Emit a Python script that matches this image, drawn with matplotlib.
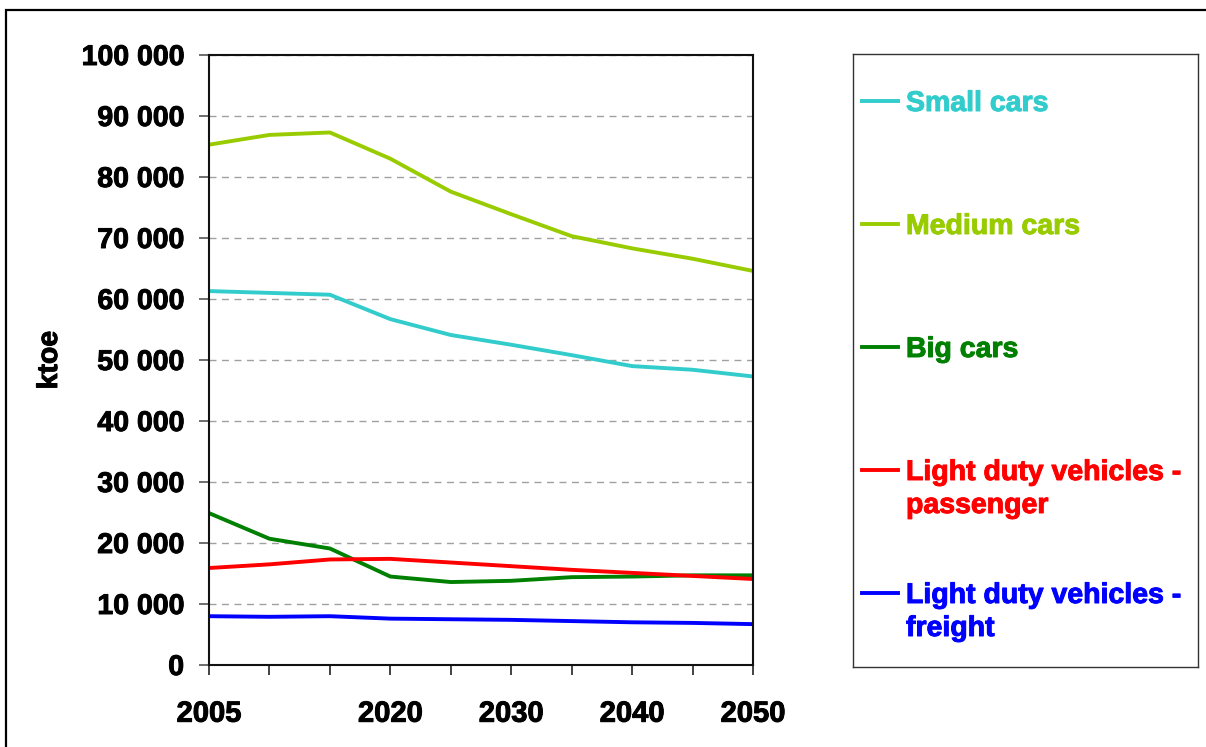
import numpy as np
import matplotlib
matplotlib.use("Agg")
import matplotlib.pyplot as plt
import matplotlib.patheffects as pe
from matplotlib.ticker import FuncFormatter
from matplotlib.lines import Line2D
from matplotlib.patches import Rectangle

#--- Data ---------------------------------------------------------------------

years = [2005, 2010, 2015, 2020, 2025, 2030, 2035, 2040, 2045, 2050]
year_labels = ['2005', '', '', '2020', '', '2030', '', '2040', '', '2050']

small_cars = [61300, 61000, 60700, 56700, 54100, 52500, 50800, 49000, 48400, 47300]
medium_cars = [85300, 86900, 87300, 83000, 77600, 73900, 70300, 68300, 66600, 64600]
big_cars = [24900, 20700, 19100, 14500, 13600, 13800, 14400, 14500, 14700, 14700]
ldv_passenger = [15900, 16500, 17300, 17400, 16800, 16200, 15600, 15100, 14600, 14100]
ldv_freight = [8000, 7900, 8000, 7600, 7500, 7400, 7200, 7000, 6900, 6700]

series = [
    ('Small cars', small_cars, '#33CCCC'),
    ('Medium cars', medium_cars, '#99CC00'),
    ('Big cars', big_cars, '#008000'),
    ('Light duty vehicles -\npassenger', ldv_passenger, '#FF0000'),
    ('Light duty vehicles -\nfreight', ldv_freight, '#0000FF'),
]

#--- Plot ---------------------------------------------------------------------

plt.rcParams['font.family'] = ['Liberation Sans', 'DejaVu Sans']
plt.rcParams['font.weight'] = 'bold'

W, H = 1206, 747
fig = plt.figure(figsize=(W / 100, H / 100), dpi=100)

def heavy(col):
    return [pe.withStroke(linewidth=0.7, foreground=col)]

# outer frame (top and left visible, rest runs off the image)
fig.patches.append(Rectangle((6 / W, -0.1), 1.2, 1 - 10 / H + 0.1,
                             transform=fig.transFigure, fill=False,
                             edgecolor='black', linewidth=1.6))

ax = fig.add_axes([209 / W, 1 - 665 / H, (753 - 209) / W, (665 - 55) / H])

for name, vals, col in series:
    ax.plot(years, vals, color=col, linewidth=2.8, solid_joinstyle='round')

ax.set_xlim(2005, 2050)
ax.set_ylim(0, 100000)
ax.set_yticks(np.arange(0, 100001, 10000))
ax.yaxis.set_major_formatter(FuncFormatter(lambda v, p: f"{int(v):,}".replace(',', ' ')))
ax.set_xticks(years)
ax.set_xticklabels(year_labels)

for s in ax.spines.values():
    s.set_linewidth(1.5)
    s.set_color('#111111')

ax.grid(axis='y', color='#a0a0a0', linestyle=(0, (5, 4)), linewidth=1.0)
ax.set_axisbelow(True)

ax.tick_params(axis='y', direction='out', length=7, width=1.2, color='#555555',
               pad=11, labelsize=20.5)
ax.tick_params(axis='x', direction='out', length=7, width=1.2, color='#222222',
               pad=18, labelsize=21)
for lab in ax.get_xticklabels() + ax.get_yticklabels():
    lab.set_fontweight('bold')
    lab.set_path_effects(heavy('black'))

ax.set_ylabel('ktoe', fontsize=20.5, fontweight='bold', path_effects=heavy('black'))
ax.yaxis.set_label_coords(-(209 - 63) / (753 - 209), 0.5)

#--- Legend box ---------------------------------------------------------------

lg = fig.add_axes([853 / W, 1 - 667 / H, (1198 - 853) / W, (667 - 54) / H])
lg.set_xlim(853, 1198)
lg.set_ylim(667, 54)
lg.set_xticks([])
lg.set_yticks([])
for s in lg.spines.values():
    s.set_linewidth(1.0)
    s.set_color('#333333')

for i, (name, vals, col) in enumerate(series):
    yy = 101 + 123 * i
    lg.add_line(Line2D([862, 898], [yy, yy], color=col, linewidth=2.8))
    for j, part in enumerate(name.split('\n')):
        lg.text(906, yy + 33 * j, part, color=col, fontsize=20.5, fontweight='bold',
                ha='left', va='center_baseline', path_effects=heavy(col))

plt.savefig('out.png', dpi=100)
